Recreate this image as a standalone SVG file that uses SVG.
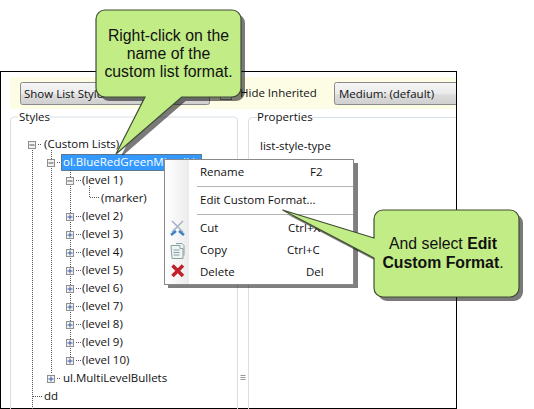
<svg xmlns="http://www.w3.org/2000/svg" width="534" height="409" viewBox="0 0 534 409">
<defs>
<linearGradient id="btn" x1="0" y1="0" x2="0" y2="1"><stop offset="0" stop-color="#f6f6f6"/><stop offset="0.5" stop-color="#ebebeb"/><stop offset="0.55" stop-color="#dddddd"/><stop offset="1" stop-color="#cfcfcf"/></linearGradient>
<linearGradient id="gut" x1="0" y1="0" x2="1" y2="0"><stop offset="0" stop-color="#ffffff"/><stop offset="1" stop-color="#ececec"/></linearGradient>
<g id="plus"><rect x="-3.500" y="-3.500" width="7" height="7" fill="#f2f2f2" stroke="#8f8f8f"/><path d="M-2.500 0H2.500M0-2.500V2.500" stroke="#3b5ba5" fill="none"/></g>
<g id="minus"><rect x="-3.500" y="-3.500" width="7" height="7" fill="#f2f2f2" stroke="#8f8f8f"/><path d="M-2.500 0H2.500" stroke="#555" fill="none"/></g>
</defs>
<style>
text{font-family:"Liberation Sans",Arial,sans-serif}
.ui{font-family:"Open Sans","Noto Sans",sans-serif;font-size:11.5px;fill:#111}
.c{font-size:15.8px;fill:#111;text-anchor:middle}
.dot{stroke:#555;stroke-dasharray:1 1;fill:none}
.grp{fill:none;stroke:#d5dfe8}
.sep{stroke:#b5b5b5}
.shadow{fill:#000;opacity:.52}
.call{fill:#c2ec86;stroke:#3f4d32;stroke-width:1.2}
</style>
<rect width="534" height="409" fill="#fff"/>
<g id="window">
<rect x="0.500" y="71.500" width="456" height="337" fill="#fff" stroke="#000"/>
<rect x="10" y="77" width="446" height="32" fill="#fdfde6"/>
<rect x="20.500" y="82.500" width="189" height="22" rx="2" fill="url(#btn)" stroke="#8a8a8a"/>
<text x="24" y="98" class="ui">Show List Style</text>
<rect x="220.500" y="88.500" width="11" height="11" fill="#fff" stroke="#8a8a8a"/>
<text x="240" y="97" class="ui">Hide Inherited</text>
<path d="M456 82.500H336.500a2 2 0 0 0-2 2V102.500a2 2 0 0 0 2 2H456" fill="url(#btn)" stroke="#8a8a8a"/>
<text x="339" y="98" class="ui">Medium: (default)</text>
<path class="grp" d="M237.500 409V121a4 4 0 0 0-4-4H50M18 117H14.500a4 4 0 0 0-4 4V409"/>
<path class="grp" d="M456 117.500H312M257 117.500H252.500a4 4 0 0 0-4 4V409"/>
<text x="19" y="121" class="ui">Styles</text>
<text x="257" y="121" class="ui">Properties</text>
<text x="260" y="150" class="ui">list-style-type</text>
<path d="M240.500 375.500h5M240.500 377.500h5M240.500 379.500h5" stroke="#9a9a9a"/>
</g>
<g id="tree">
<path class="dot" d="M32.500 150V409M33 396.500H42M38 144.500H42M51.500 150V374M70.500 168V358M57 162.500H61M76 180.500H81M89.500 186V197.500H100M76 216.500H81M76 234.500H81M76 252.500H81M76 270.500H81M76 288.500H81M76 306.500H81M76 324.500H81M76 342.500H81M76 360.500H81M57 378.500H61"/>
<use href="#minus" x="32" y="145"/>
<use href="#minus" x="51" y="163"/>
<use href="#minus" x="70" y="181"/>
<use href="#plus" x="70" y="217"/><use href="#plus" x="70" y="235"/><use href="#plus" x="70" y="253"/><use href="#plus" x="70" y="271"/><use href="#plus" x="70" y="289"/><use href="#plus" x="70" y="307"/><use href="#plus" x="70" y="325"/><use href="#plus" x="70" y="343"/><use href="#plus" x="70" y="361"/>
<use href="#plus" x="51" y="379"/>
<text x="44" y="148" class="ui">(Custom Lists)</text>
<rect x="61.500" y="154.500" width="140" height="16" fill="#3399ff" stroke="#222" stroke-dasharray="1 1"/>
<text x="63" y="166" class="ui" style="fill:#fff">ol.BlueRedGreenMixedList</text>
<text x="82" y="184" class="ui">(level 1)</text>
<text x="101" y="202" class="ui">(marker)</text>
<text x="82" y="220" class="ui">(level 2)</text>
<text x="82" y="238" class="ui">(level 3)</text>
<text x="82" y="256" class="ui">(level 4)</text>
<text x="82" y="274" class="ui">(level 5)</text>
<text x="82" y="292" class="ui">(level 6)</text>
<text x="82" y="310" class="ui">(level 7)</text>
<text x="82" y="328" class="ui">(level 8)</text>
<text x="82" y="346" class="ui">(level 9)</text>
<text x="82" y="364" class="ui">(level 10)</text>
<text x="63" y="382" class="ui">ul.MultiLevelBullets</text>
<text x="44" y="400" class="ui">dd</text>
</g>
<g id="context-menu">
<rect x="168" y="163" width="190" height="125" fill="#000" opacity=".5"/>
<rect x="164.500" y="159.500" width="189" height="125" fill="#fff" stroke="#8a8a8a"/>
<rect x="165" y="160" width="24" height="124" fill="url(#gut)"/>
<text x="200" y="176" class="ui">Rename</text><text x="310" y="176" class="ui">F2</text>
<line class="sep" x1="197" x2="353" y1="186.500" y2="186.500"/>
<text x="200" y="204" class="ui">Edit Custom Format...</text>
<line class="sep" x1="197" x2="353" y1="214.500" y2="214.500"/>
<path d="M172 221L183 232M183 221L172 232" stroke="#a3b3c2" stroke-width="1.500"/>
<path d="M171 235l5-4M184 235l-5-4" stroke="#3d7fc9" stroke-width="2.500"/>
<text x="200" y="232" class="ui">Cut</text><text x="288" y="232" class="ui">Ctrl+X</text>
<path d="M171 245.500h9v3h3v10h-11z M176 243.500h6l2 2v10" fill="#eef3f3" stroke="#8aa0a0"/>
<path d="M173.500 250h6M173.500 252.500h6M173.500 255h6" stroke="#8aa0a0"/>
<text x="200" y="254" class="ui">Copy</text><text x="287" y="254" class="ui">Ctrl+C</text>
<path d="M172.500 265.500L183 276M183 265.500L172.500 276" stroke="#c0202a" stroke-width="3.500"/>
<text x="200" y="276" class="ui">Delete</text><text x="306" y="276" class="ui">Del</text>
</g>
<g id="callout-1">
<path class="shadow" d="M109 14H236a9 9 0 0 1 9 9V92a9 9 0 0 1-9 9H185.700L123.500 155H121.500L149 101H109a9 9 0 0 1-9-9V23a9 9 0 0 1 9-9Z"/>
<path class="call" d="M105 10H232a9 9 0 0 1 9 9V88a9 9 0 0 1-9 9H181.700L116 154L145 97H105a9 9 0 0 1-9-9V19a9 9 0 0 1 9-9Z"/>
<text class="c" x="168.500" y="41">Right-click on the</text>
<text class="c" x="168.500" y="59">name of the</text>
<text class="c" x="168.500" y="77">custom list format.</text>
</g>
<g id="callout-2">
<path class="shadow" d="M387 214H514a9 9 0 0 1 9 9V292a9 9 0 0 1-9 9H387a9 9 0 0 1-9-9V262L286.500 214L378 242V223a9 9 0 0 1 9-9Z"/>
<path class="call" d="M383 210H510a9 9 0 0 1 9 9V288a9 9 0 0 1-9 9H383a9 9 0 0 1-9-9V258L282.500 210L374 238V219a9 9 0 0 1 9-9Z"/>
<text class="c" x="443" y="249">And select <tspan font-weight="bold">Edit</tspan></text>
<text class="c" x="443" y="268"><tspan font-weight="bold">Custom Format</tspan>.</text>
</g>
</svg>
